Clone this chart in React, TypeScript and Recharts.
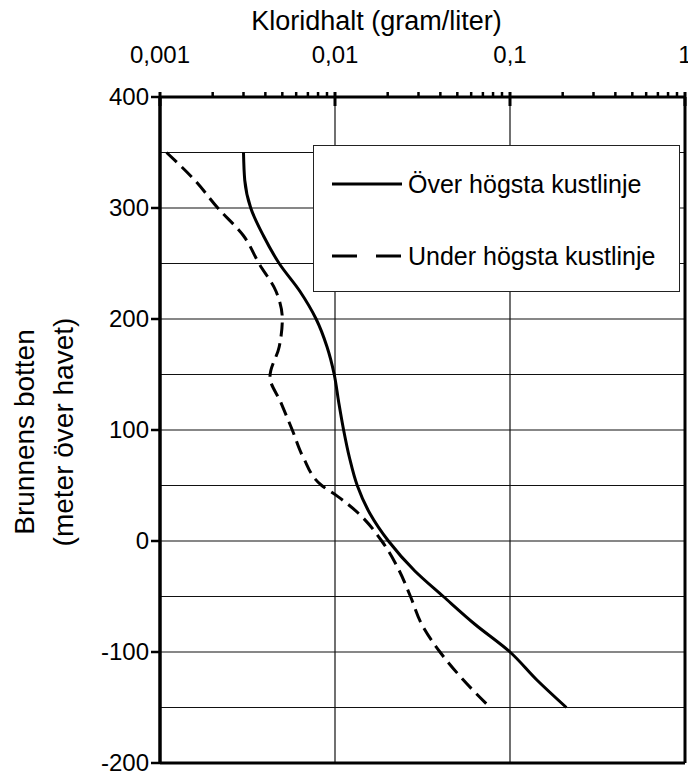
import React from "react";
import { LineChart, Line, XAxis, YAxis, CartesianGrid, ReferenceLine, Legend, Label } from "recharts";

// Över högsta kustlinje
const overDepth = [350, 325, 300, 275, 250, 225, 200, 175, 150, 125, 100, 75, 50, 25, 0, -27, -50, -75, -100, -125, -150];
const overValue = [0.003, 0.00305, 0.0033, 0.0039, 0.0048, 0.0063, 0.0078, 0.0090, 0.0099, 0.0105, 0.0112, 0.0121, 0.0134, 0.0158, 0.0202, 0.0286, 0.0416, 0.063, 0.1, 0.142, 0.21];

// Under högsta kustlinje
const underDepth = [350, 325, 300, 275, 250, 225, 200, 175, 148, 125, 100, 75, 50, 40, 25, 0, -25, -50, -75, -100, -125, -150];
const underValue = [0.00109, 0.00158, 0.00214, 0.003, 0.00368, 0.0046, 0.005, 0.0048, 0.00425, 0.0049, 0.0057, 0.0066, 0.0084, 0.0104, 0.0136, 0.0185, 0.023, 0.027, 0.0313, 0.0398, 0.054, 0.077];

const xTicks = [
  0.001, 0.002, 0.003, 0.004, 0.005, 0.006, 0.007, 0.008, 0.009,
  0.01, 0.02, 0.03, 0.04, 0.05, 0.06, 0.07, 0.08, 0.09,
  0.1, 0.2, 0.3, 0.4, 0.5, 0.6, 0.7, 0.8, 0.9, 1,
];
const xMajor = [0.001, 0.01, 0.1, 1];
const yTicks = [-200, -100, 0, 100, 200, 300, 400];
const gridDepths = [-150, -100, -50, 0, 50, 100, 150, 200, 250, 300, 350];
const gridValues = [0.01, 0.1];

const overData = overDepth.map((d, i) => ({ x: overValue[i], y: d }));
const underData = underDepth.map((d, i) => ({ x: underValue[i], y: d }));

const FONT = "'Liberation Sans', Arial, sans-serif";

const fmt = (v: number) => String(v).replace(".", ",");

function TopTick(props: any) {
  const { x, y, payload } = props;
  const v = payload.value;
  if (!xMajor.includes(v)) {
    return <line x1={x} x2={x} y1={y - 5} y2={y} stroke="#000" strokeWidth={2.5} />;
  }
  return (
    <g>
      <line x1={x} x2={x} y1={y - 5} y2={y + 9} stroke="#000" strokeWidth={3} />
      <text x={x} y={y - 34} textAnchor="middle" fontSize={24} fontFamily={FONT} fill="#000">
        {fmt(v)}
      </text>
    </g>
  );
}

function LeftTick(props: any) {
  const { x, y, payload } = props;
  return (
    <text x={x} y={y} dy={8} textAnchor="end" fontSize={24} fontFamily={FONT} fill="#000">
      {payload.value}
    </text>
  );
}

function XTitle(props: any) {
  const { viewBox } = props;
  return (
    <text x={viewBox.x + viewBox.width / 2 - 46} y={30} textAnchor="middle" fontSize={27} fontFamily={FONT} fill="#000">
      Kloridhalt (gram/liter)
    </text>
  );
}

function YTitle(props: any) {
  const { viewBox } = props;
  const cy = viewBox.y + viewBox.height / 2 + 2;
  return (
    <g fontSize={28} fontFamily={FONT} fill="#000" textAnchor="middle">
      <text x={24} y={cy} dominantBaseline="central" transform={`rotate(-90, 24, ${cy})`}>
        Brunnens botten
      </text>
      <text x={63} y={cy} dominantBaseline="central" transform={`rotate(-90, 63, ${cy})`}>
        (meter över havet)
      </text>
    </g>
  );
}

function LegendBox() {
  const row: React.CSSProperties = {
    position: "absolute",
    left: 18,
    height: 30,
    display: "flex",
    alignItems: "center",
    fontSize: 25,
    fontFamily: FONT,
    color: "#000",
    whiteSpace: "nowrap",
  };
  return (
    <div
      style={{
        position: "relative",
        width: 367,
        height: 147,
        boxSizing: "border-box",
        border: "1.5px solid #222",
        background: "#fff",
      }}
    >
      <div style={{ ...row, top: 23 }}>
        <svg width={72} height={10} style={{ marginRight: 4 }}>
          <line x1={0} x2={70} y1={5} y2={5} stroke="#000" strokeWidth={3} />
        </svg>
        Över högsta kustlinje
      </div>
      <div style={{ ...row, top: 95 }}>
        <svg width={72} height={10} style={{ marginRight: 4 }}>
          <line x1={0} x2={70} y1={5} y2={5} stroke="#000" strokeWidth={3} strokeDasharray="25 19" />
        </svg>
        Under högsta kustlinje
      </div>
    </div>
  );
}

export default function App() {
  return (
    <div style={{ position: "absolute", left: 0, top: 0, background: "#fff" }}>
      <LineChart width={688} height={773} margin={{ top: 0, right: 3, bottom: 10, left: 0 }}>
        <CartesianGrid
          horizontalValues={gridDepths}
          verticalValues={gridValues}
          stroke="#111"
          strokeWidth={1.2}
        />
        <XAxis
          xAxisId={0}
          dataKey="x"
          type="number"
          scale="log"
          domain={[0.001, 1]}
          allowDataOverflow
          orientation="top"
          ticks={xTicks}
          interval={0}
          height={97}
          tickSize={0}
          tickMargin={0}
          tickLine={false}
          tick={<TopTick />}
          axisLine={{ stroke: "#000", strokeWidth: 3 }}
        >
          <Label content={<XTitle />} />
        </XAxis>
        <YAxis
          yAxisId={0}
          type="number"
          domain={[-200, 400]}
          ticks={yTicks}
          interval={0}
          width={160}
          tickSize={9}
          tickMargin={2}
          tick={<LeftTick />}
          tickLine={{ stroke: "#000", strokeWidth: 2.5 }}
          axisLine={{ stroke: "#000", strokeWidth: 3.5 }}
        >
          <Label content={<YTitle />} />
        </YAxis>
        <ReferenceLine y={-200} stroke="#000" strokeWidth={3} />
        <ReferenceLine x={1} stroke="#000" strokeWidth={3} />
        <Line
          data={overData}
          dataKey="y"
          name="Över högsta kustlinje"
          type="monotoneY"
          stroke="#000"
          strokeWidth={3}
          dot={false}
          isAnimationActive={false}
        />
        <Line
          data={underData}
          dataKey="y"
          name="Under högsta kustlinje"
          type="monotoneY"
          stroke="#000"
          strokeWidth={3}
          strokeDasharray="14 7"
          dot={false}
          isAnimationActive={false}
        />
        <Legend
          layout="vertical"
          align="center"
          verticalAlign="middle"
          content={<LegendBox />}
          wrapperStyle={{ left: 313, top: 145, width: 367, height: 147 }}
        />
      </LineChart>
    </div>
  );
}
